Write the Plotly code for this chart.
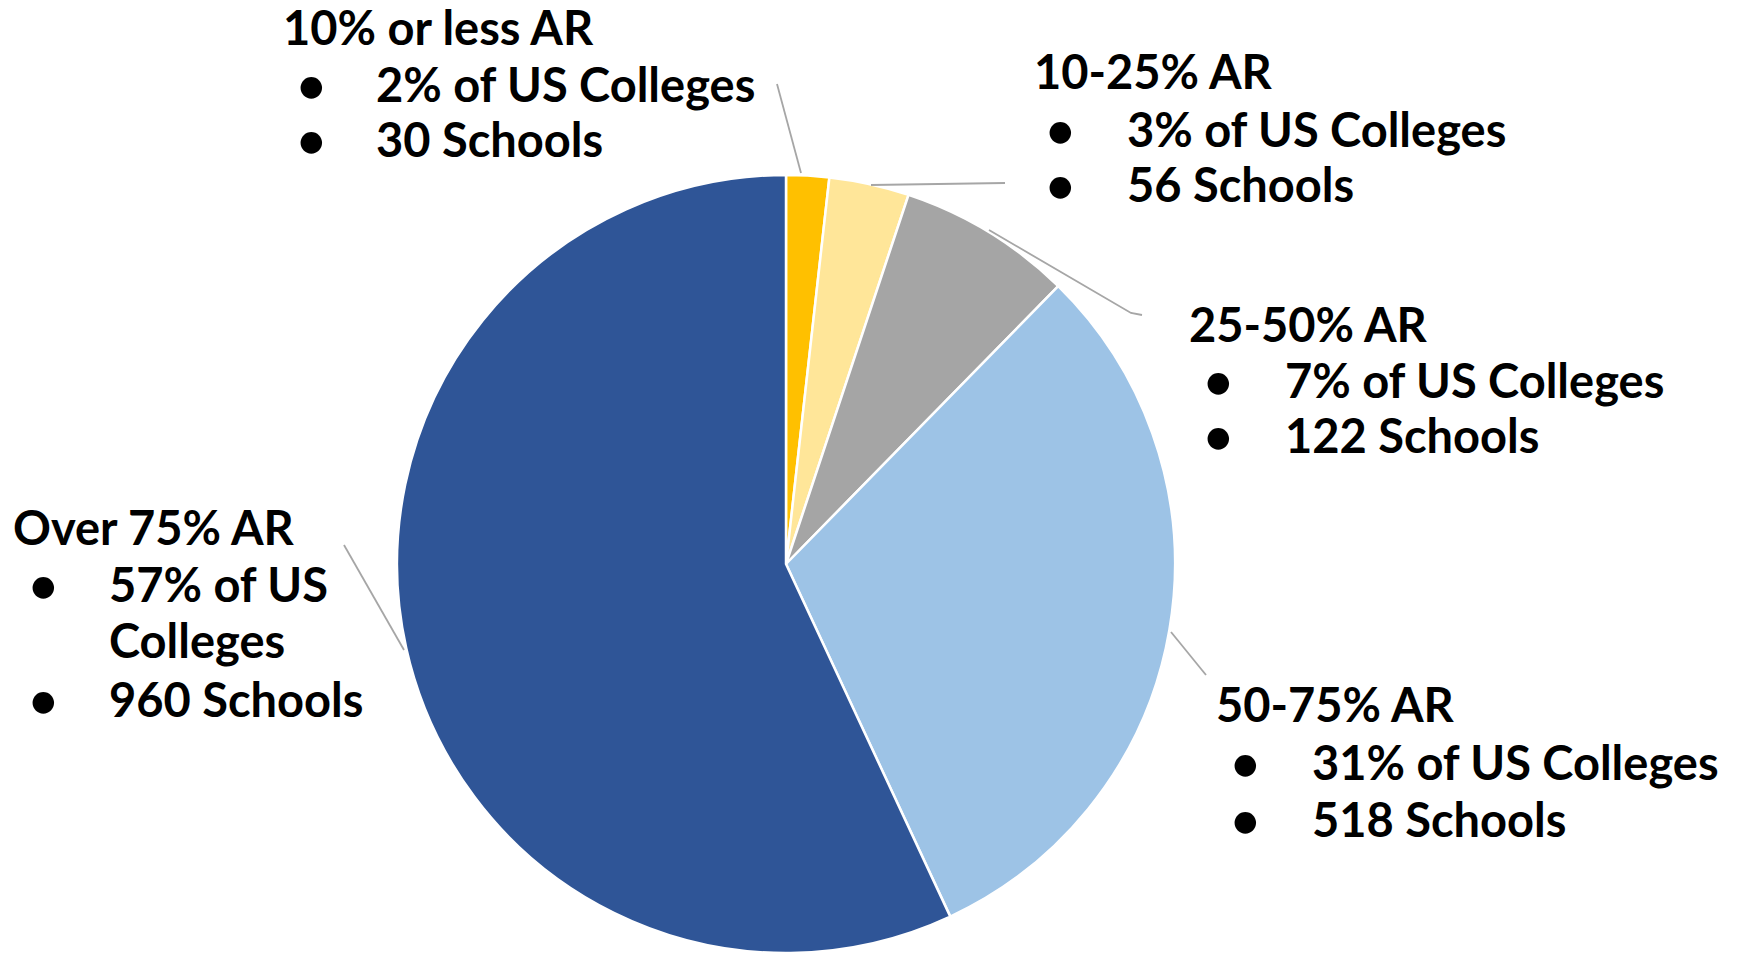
import plotly.graph_objects as go

# ---- data ----
categories = ["10% or less AR", "10-25% AR", "25-50% AR", "50-75% AR", "Over 75% AR"]
schools = [30, 56, 122, 518, 960]
pct_of_colleges = [2, 3, 7, 31, 57]
colors = ["#FFC000", "#FFE699", "#A5A5A5", "#9DC3E6", "#2F5597"]

W, H = 1737, 953
FS = 47
FONT = "Lato"
DX, DY = -10, -8  # global nudge

# label layout (pixels): header left x, header baseline, bullet x, text x, row baselines
label_pos = [
    dict(hx=283, hy=45, bx=313, tx=376, rows=[102, 157]),
    dict(hx=1034, hy=89, bx=1062, tx=1127, rows=[147, 202]),
    dict(hx=1189, hy=342, bx=1220, tx=1285, rows=[398, 453]),
    dict(hx=1216, hy=722, bx=1247, tx=1312, rows=[780, 837]),
    dict(hx=13, hy=545, bx=45, tx=109, rows=[602, 658, 717]),
]
# leader lines (pixels)
leaders = [
    [(779, 84), (803, 173)],
    [(873, 185), (1007, 183)],
    [(991, 230), (1133, 313), (1144, 315)],
    [(1173, 632), (1208, 675)],
    [(346, 545), (406, 650)],
]

CX, CY, R = 788 + DX, 564 + DY, 389


def px(x):
    return (x + DX) / W


def py(y):
    return 1 - (y + DY) / H


fig = go.Figure(go.Pie(
    labels=categories,
    values=schools,
    sort=False,
    direction="clockwise",
    rotation=0,
    marker=dict(colors=colors, line=dict(color="white", width=2.5)),
    textinfo="none",
    hoverinfo="label+value+percent",
    showlegend=False,
    domain=dict(x=[(CX - R) / W, (CX + R) / W], y=[1 - (CY + R) / H, 1 - (CY - R) / H]),
))


def baseline_to_mid(b):
    return py(b - 0.387 * FS)


annotations = []
for i, cat in enumerate(categories):
    p = label_pos[i]
    annotations.append(dict(x=px(p["hx"]), y=baseline_to_mid(p["hy"]), xref="paper", yref="paper",
                            xanchor="left", yanchor="middle", text=cat, showarrow=False,
                            font=dict(family=FONT, size=FS, color="black", weight="bold")))
    if len(p["rows"]) == 3:
        rows = [(True, f"{pct_of_colleges[i]}% of US"), (False, "Colleges"), (True, f"{schools[i]} Schools")]
    else:
        rows = [(True, f"{pct_of_colleges[i]}% of US Colleges"), (True, f"{schools[i]} Schools")]
    for (bullet, txt), b in zip(rows, p["rows"]):
        if bullet:
            annotations.append(dict(x=px(p["bx"]), y=baseline_to_mid(b), xref="paper", yref="paper",
                                    xanchor="center", yanchor="middle", text="•", showarrow=False,
                                    font=dict(family=FONT, size=FS * 1.05, color="black", weight="bold")))
        annotations.append(dict(x=px(p["tx"]), y=baseline_to_mid(b), xref="paper", yref="paper",
                                xanchor="left", yanchor="middle", text=txt, showarrow=False,
                                font=dict(family=FONT, size=FS, color="black", weight="bold")))

shapes = []
for pts in leaders:
    path = "M " + " L ".join(f"{px(x)},{py(y)}" for x, y in pts)
    shapes.append(dict(type="path", xref="paper", yref="paper", path=path,
                       line=dict(color="#A6A6A6", width=1.8)))

fig.update_layout(
    width=W, height=H,
    margin=dict(l=0, r=0, t=0, b=0),
    paper_bgcolor="white", plot_bgcolor="white",
    annotations=annotations, shapes=shapes,
)

fig.write_html("out.html")
